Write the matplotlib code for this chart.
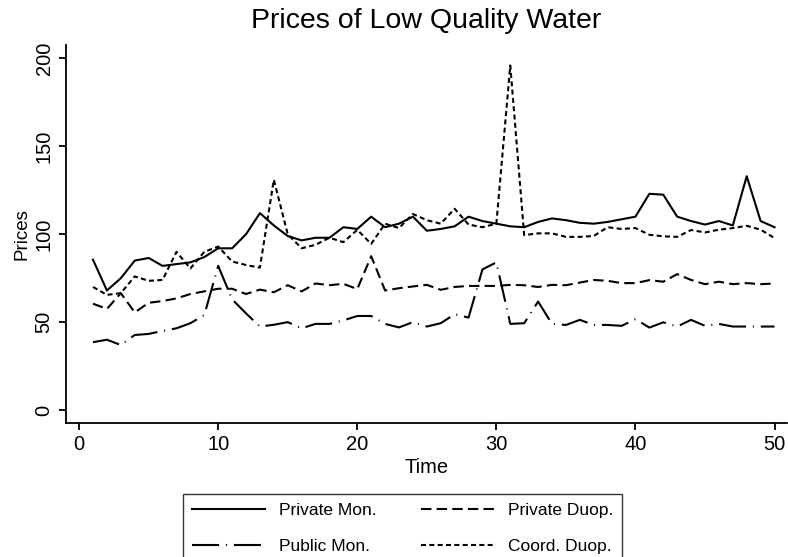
import numpy as np
import matplotlib
matplotlib.use('Agg')
import matplotlib.pyplot as plt

plt.rcParams['font.family'] = ['Liberation Sans', 'DejaVu Sans']

# prices, periods 1..50
time = np.arange(1, 51)
private_mon = [85.5, 68, 75, 85, 86.5, 82, 83, 84, 87, 92,
               92, 100, 112, 105, 99, 96.5, 98, 98, 104, 103,
               110, 104, 106, 110, 102, 103, 104.5, 110, 107.5, 106,
               104.5, 104, 107, 109, 108, 106.5, 106, 107, 108.5, 110,
               123, 122.5, 110, 107.5, 105.5, 107.5, 105, 133, 107.5, 104]
private_duop = [60.5, 57.5, 66.5, 55.5, 61, 62, 63.5, 66, 67.5, 69,
                69, 66, 68.5, 67, 71, 67.5, 72, 71, 71.8, 68.8,
                87.5, 68, 69.3, 70.3, 71.2, 68.4, 70, 70.6, 70.6, 70.6,
                71.2, 71, 70, 71.2, 71, 72.5, 74, 73.5, 72.2, 72.2,
                73.9, 73, 77.3, 74, 71.6, 73, 71.6, 72.2, 71.6, 72]
public_mon = [38.6, 40, 37, 42.7, 43.3, 45, 46.5, 49.4, 54, 82,
              63, 55, 47.5, 48.5, 50, 46.5, 49, 49, 51, 53.5,
              53.5, 49, 47, 50, 47.5, 49.4, 54.5, 52.6, 80, 84,
              49, 49.4, 61.7, 49, 48.4, 51.3, 48.4, 48.4, 47.9, 51.7,
              46.9, 49.9, 47.5, 51.3, 47.9, 49, 47.5, 47.5, 47.5, 47.5]
coord_duop = [70, 65.5, 66.5, 76, 73.5, 74, 90, 80.5, 90, 93,
              84.5, 82.5, 81, 131, 100, 92, 94, 98, 95.5, 102.5,
              94.5, 106, 103.5, 111.5, 108, 106, 114.5, 105.5, 104, 106,
              196, 99.5, 100.5, 100.5, 98.5, 98.5, 99, 104, 103, 103.5,
              99.7, 98.8, 98.5, 102.4, 101, 102.6, 103.5, 104.8, 102.6, 97.8]

fig = plt.figure(figsize=(7.88, 5.57), dpi=100)
ax = fig.add_axes([0.0838, 0.2411, 0.915, 0.678])

lw = 1.5
l1, = ax.plot(time, private_mon, '-', color='black', linewidth=lw, label='Private Mon.')
l2, = ax.plot(time, private_duop, color='black', linewidth=lw, dashes=(5, 2.5), label='Private Duop.')
l3, = ax.plot(time, public_mon, color='black', linewidth=lw, dashes=(13, 3.3, 0.5, 3.3), label='Public Mon.')
l4, = ax.plot(time, coord_duop, color='black', linewidth=lw, dashes=(2.4, 1.6), label='Coord. Duop.')

ax.set_xlim(-0.94, 50.9)
ax.set_ylim(-7.2, 207.6)
ax.set_xticks([0, 10, 20, 30, 40, 50])
ax.set_yticks([0, 50, 100, 150, 200])
for lab in ax.get_yticklabels():
    lab.set_rotation(90)
    lab.set_va('center')
ax.tick_params(labelsize=14.5, length=5, width=1.3, colors='black', pad=4)
ax.spines['top'].set_visible(False)
ax.spines['right'].set_visible(False)
ax.spines['left'].set_linewidth(1.3)
ax.spines['bottom'].set_linewidth(1.3)

ax.set_title('Prices of Low Quality Water', fontsize=20.5, pad=12)
ax.set_xlabel('Time', fontsize=14.5, labelpad=3)
ax.set_ylabel('Prices', fontsize=13.5, labelpad=3)

# column-wise fill: Private Mon. / Public Mon. | Private Duop. / Coord. Duop.
leg = fig.legend([l1, l3, l2, l4], ['Private Mon.', 'Public Mon.', 'Private Duop.', 'Coord. Duop.'],
                 loc='upper center', bbox_to_anchor=(0.511, 0.113), ncol=2, fontsize=12.5,
                 frameon=True, fancybox=False, edgecolor='black', handlelength=4.2,
                 handletextpad=0.8, columnspacing=2.6, borderpad=0.5, labelspacing=1.2,
                 borderaxespad=0)
leg.get_frame().set_linewidth(1.0)

fig.savefig('out.png', dpi=100)
